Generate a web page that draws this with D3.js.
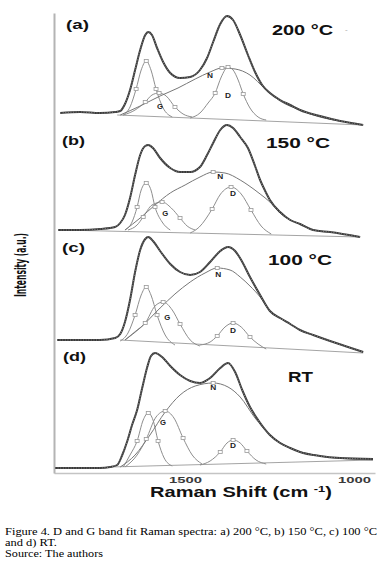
<!DOCTYPE html>
<html><head><meta charset="utf-8">
<script src="https://cdn.jsdelivr.net/npm/d3@7"></script>
<style>body{margin:0;background:#fff}svg{display:block}</style>
</head><body>
<svg id="c" width="384" height="575"></svg>
<script>
// ---- data (Raman shift cm-1, intensity a.u. relative to each panel's stacking offset) ----
const panelTags = ["(a)", "(b)", "(c)", "(d)"];
const temps = ["200 °C", "150 °C", "100 °C", "RT"];
const offsets = [360, 243, 133, 5];
const xTicks = [1500, 1000];

const totalA = [[1870,0],[1811,1],[1752,0],[1707,1],[1692,2],[1678,9],[1663,23],[1648,43],[1633,63],[1618,78],[1609,81],[1598,78],[1583,65],[1565,51],[1544,40],[1515,35],[1485,36],[1456,43],[1435,55],[1417,71],[1396,89],[1376,97],[1358,93],[1337,78],[1314,58],[1293,41],[1272,28],[1249,20],[1219,13],[1189,8],[1160,3],[1101,-3],[1041,-8],[973,-12]];
const baseA = [[1701,-2],[973,-12]];
const g1A = [[1683,-2],[1663,6],[1645,24],[1630,43],[1615,52],[1601,43],[1586,24],[1565,5],[1538,-4]];
const gA = [[1683,-2],[1648,3],[1618,11],[1598,18],[1577,20],[1556,17],[1530,6],[1506,-1],[1479,-4]];
const nA = [[1692,-2],[1633,7],[1574,17],[1521,25],[1470,34],[1426,41],[1391,45],[1352,44],[1308,38],[1263,24],[1219,12],[1160,3],[1101,-4],[1041,-8]];
const dA = [[1485,-5],[1456,0],[1432,10],[1411,20],[1393,36],[1373,46],[1358,43],[1343,33],[1328,19],[1308,5],[1284,-4],[1260,-7]];

const totalB = [[1876,0],[1811,0],[1752,1],[1707,3],[1692,7],[1678,15],[1663,32],[1648,55],[1633,75],[1618,84],[1609,85],[1595,82],[1574,72],[1544,62],[1515,58],[1485,58],[1456,63],[1435,75],[1417,87],[1396,100],[1376,105],[1358,102],[1337,93],[1314,82],[1293,64],[1278,50],[1263,39],[1249,30],[1219,18],[1189,10],[1160,6],[1121,0],[1071,-2],[982,-7]];
const baseB = [[1864,0],[982,-7]];
const g1B = [[1678,0],[1657,8],[1642,23],[1630,40],[1615,47],[1601,40],[1589,23],[1568,8],[1544,0]];
const gB = [[1669,0],[1642,5],[1624,13],[1598,25],[1568,28],[1541,22],[1515,12],[1494,4],[1470,0]];
const nB = [[1678,0],[1633,12],[1589,25],[1544,37],[1500,45],[1456,53],[1417,58],[1382,57],[1337,50],[1314,45],[1278,36],[1249,28],[1219,17],[1189,10],[1160,6],[1121,0],[1071,-2]];
const dB = [[1485,-3],[1458,3],[1420,21],[1395,36],[1364,43],[1334,36],[1305,20],[1275,4],[1245,-4]];

const totalC = [[1879,0],[1811,0],[1752,0],[1707,2],[1692,6],[1678,18],[1663,40],[1648,68],[1633,90],[1618,101],[1609,103],[1595,99],[1574,89],[1544,76],[1515,68],[1485,65],[1456,68],[1426,78],[1396,89],[1373,93],[1352,89],[1334,80],[1308,63],[1278,45],[1249,29],[1219,22],[1189,16],[1160,10],[1121,5],[1071,-1],[1027,-6],[973,-12]];
const baseC = [[1692,0],[973,-13]];
const g1C = [[1692,-1],[1669,7],[1648,25],[1630,45],[1615,53],[1601,45],[1583,25],[1559,5],[1530,-5]];
const gC = [[1678,0],[1642,10],[1618,17],[1589,34],[1565,38],[1538,30],[1515,16],[1485,0],[1456,-6]];
const nC = [[1678,0],[1633,12],[1574,32],[1530,46],[1485,58],[1441,67],[1405,72],[1367,70],[1337,63],[1308,54],[1278,43],[1249,29],[1219,22],[1189,16],[1160,10],[1121,5],[1071,-1],[1027,-6],[973,-12]];
const dC = [[1456,-5],[1426,-2],[1405,4],[1382,13],[1358,17],[1334,13],[1308,3],[1284,-4],[1260,-9]];

const totalD = [[1885,0],[1811,0],[1752,0],[1722,1],[1701,3],[1686,13],[1672,26],[1657,43],[1642,58],[1627,80],[1612,101],[1601,112],[1589,115],[1568,111],[1544,102],[1515,93],[1485,87],[1456,85],[1426,90],[1396,100],[1373,105],[1352,96],[1331,78],[1308,61],[1284,48],[1249,33],[1219,25],[1189,20],[1160,16],[1101,12],[1041,10],[944,9]];
const baseD = [[1722,1],[944,8]];
const g1D = [[1683,1],[1663,13],[1642,27],[1624,48],[1609,55],[1595,48],[1580,27],[1562,10],[1538,2]];
const gD = [[1678,1],[1642,13],[1615,29],[1586,51],[1559,57],[1533,50],[1506,30],[1479,13],[1450,4]];
const nD = [[1692,1],[1648,13],[1604,33],[1559,56],[1515,73],[1470,82],[1417,85],[1373,81],[1337,71],[1293,50],[1249,33],[1189,20],[1101,12],[1012,9],[944,8]];
const dD = [[1456,3],[1426,7],[1396,16],[1376,25],[1358,28],[1337,25],[1317,17],[1290,8],[1260,4]];

// band labels: [text, shift, intensity]
const labelsA = [["N",1426,38],["D",1373,18],["G",1574,7]];
const labelsB = [["N",1396,54],["D",1358,37],["G",1559,17]];
const labelsC = [["N",1402,66],["D",1358,10],["G",1553,23]];
const labelsD = [["N",1417,81],["D",1358,23],["G",1565,46]];

const totals = [totalA, totalB, totalC, totalD];
const baselines = [baseA, baseB, baseC, baseD];
const comps = [
  [[g1A,[2,4,6]],[gA,[2,4,6]],[nA,[6]],[dA,[3,5,8]]],
  [[g1B,[2,4,6]],[gB,[2,4,6]],[nB,[6]],[dB,[2,4,6]]],
  [[g1C,[2,4,6]],[gC,[2,4,6]],[nC,[6]],[dC,[2,4,6]]],
  [[g1D,[2,4,6]],[gD,[2,4,6]],[nD,[6]],[dD,[2,4,6]]]
];
const bandLabels = [labelsA, labelsB, labelsC, labelsD];

// ---- layout ----
const svg = d3.select("#c");
const x = d3.scaleLinear().domain([1888, 938]).range([54, 375]);
const y = d3.scaleLinear().domain([0, 460]).range([473, 13]);
const tagPos = [[66,29],[62,145],[62,252],[63,361]];
const tempPos = [[272,35,61],[266,148,64],[268,265,64],[288,382,25]];

// axes
const gx = svg.append("g").attr("transform","translate(0,473)")
  .call(d3.axisBottom(x).tickValues(xTicks).tickSize(0).tickPadding(4).tickFormat(d3.format("d")));
gx.select(".domain").attr("stroke","#c4c4c4").attr("stroke-width",1.5);
gx.selectAll("text").attr("font-family","Arial, 'Liberation Sans', sans-serif")
  .attr("font-weight","bold").attr("font-size",9).attr("fill","#3a3a3a")
  .attr("textLength",33).attr("lengthAdjust","spacingAndGlyphs");

const gy = svg.append("g").attr("transform","translate(54,0)")
  .call(d3.axisLeft(y).tickValues([]).tickSizeOuter(0));
gy.select(".domain").attr("stroke","#b4b4b4").attr("stroke-width",2);

const line = off => d3.line().x(d => x(d[0])).y(d => y(off + d[1])).curve(d3.curveMonotoneX);

offsets.forEach((off, i) => {
  const g = svg.append("g");
  // baseline
  g.append("path").attr("d", d3.line().x(d=>x(d[0])).y(d=>y(off+d[1]))(baselines[i]))
    .attr("fill","none").attr("stroke","#9a9a9a").attr("stroke-width",0.9);
  // components
  comps[i].forEach(([pts, marks], k) => {
    g.append("path").attr("d", line(off)(pts)).attr("fill","none")
      .attr("stroke", k === 2 ? "#777" : "#8e8e8e").attr("stroke-width",1);
  });
  comps[i].forEach(([pts, marks]) => {
    g.selectAll(null).data(marks.map(m => pts[m])).join("rect")
      .attr("x", d => x(d[0]) - 2).attr("y", d => y(off + d[1]) - 1.5)
      .attr("width",4).attr("height",3)
      .attr("fill","#fff").attr("stroke","#999").attr("stroke-width",0.8);
  });
  // measured spectrum
  g.append("path").attr("d", line(off)(totals[i])).attr("fill","none")
    .attr("stroke","#3a3a3a").attr("stroke-width",2);
  g.append("path").attr("d", line(off)(totals[i])).attr("fill","none")
    .attr("stroke","#9a9a9a").attr("stroke-width",0.8).attr("stroke-dasharray","1 1.6");
  // band labels
  g.selectAll(null).data(bandLabels[i]).join("text")
    .attr("x", d => x(d[1])).attr("y", d => y(off + d[2]) + 2.5)
    .attr("text-anchor","middle").attr("font-family","Arial, sans-serif")
    .attr("font-weight","bold").attr("font-size",6.5).attr("fill","#222")
    .attr("textLength",6).attr("lengthAdjust","spacingAndGlyphs")
    .text(d => d[0]);
  // panel tag and temperature
  g.append("text").attr("x", tagPos[i][0]).attr("y", tagPos[i][1])
    .attr("font-family","Arial, sans-serif").attr("font-weight","bold").attr("font-size",13)
    .attr("fill","#111").attr("textLength",23).attr("lengthAdjust","spacingAndGlyphs")
    .text(panelTags[i]);
  g.append("text").attr("x", tempPos[i][0]).attr("y", tempPos[i][1])
    .attr("font-family","Arial, sans-serif").attr("font-weight","bold").attr("font-size",14)
    .attr("fill","#111").attr("textLength",tempPos[i][2]).attr("lengthAdjust","spacingAndGlyphs")
    .text(temps[i]);
});
svg.append("text").attr("x",345).attr("y",32).attr("font-family","Arial, sans-serif")
  .attr("font-size",8).attr("fill","#aaa").text("-");

// axis titles
svg.append("text").attr("transform","translate(26,265) rotate(-90)")
  .attr("text-anchor","middle")
  .attr("font-family","'Liberation Sans Narrow', 'DejaVu Sans Condensed', Arial, sans-serif")
  .attr("font-size",16).attr("font-weight","bold").attr("fill","#111")
  .attr("textLength",64).attr("lengthAdjust","spacingAndGlyphs")
  .text("Intensity (a.u.)");

const xt = svg.append("text").attr("x",241).attr("y",497).attr("text-anchor","middle")
  .attr("font-family","Arial, 'Liberation Sans', sans-serif").attr("font-weight","bold")
  .attr("font-size",14).attr("fill","#111")
  .attr("textLength",182).attr("lengthAdjust","spacingAndGlyphs");
xt.append("tspan").text("Raman Shift (cm ");
xt.append("tspan").attr("dy",-5).attr("font-size",9).text("-1");
xt.append("tspan").attr("dy",5).text(")");

// caption
const cap = [["Figure 4. D and G band fit Raman spectra: a) 200 °C, b) 150 °C, c) 100 °C", 535, 372],
             ["and d) RT.", 546, 52],
             ["Source: The authors", 557, 98]];
svg.selectAll(null).data(cap).join("text")
  .attr("x",5).attr("y", d => d[1])
  .attr("font-family","'Liberation Serif', 'Times New Roman', serif").attr("font-size",10.5)
  .attr("fill","#000").attr("textLength", d => d[2]).attr("lengthAdjust","spacingAndGlyphs")
  .text(d => d[0]);
</script></body></html>
